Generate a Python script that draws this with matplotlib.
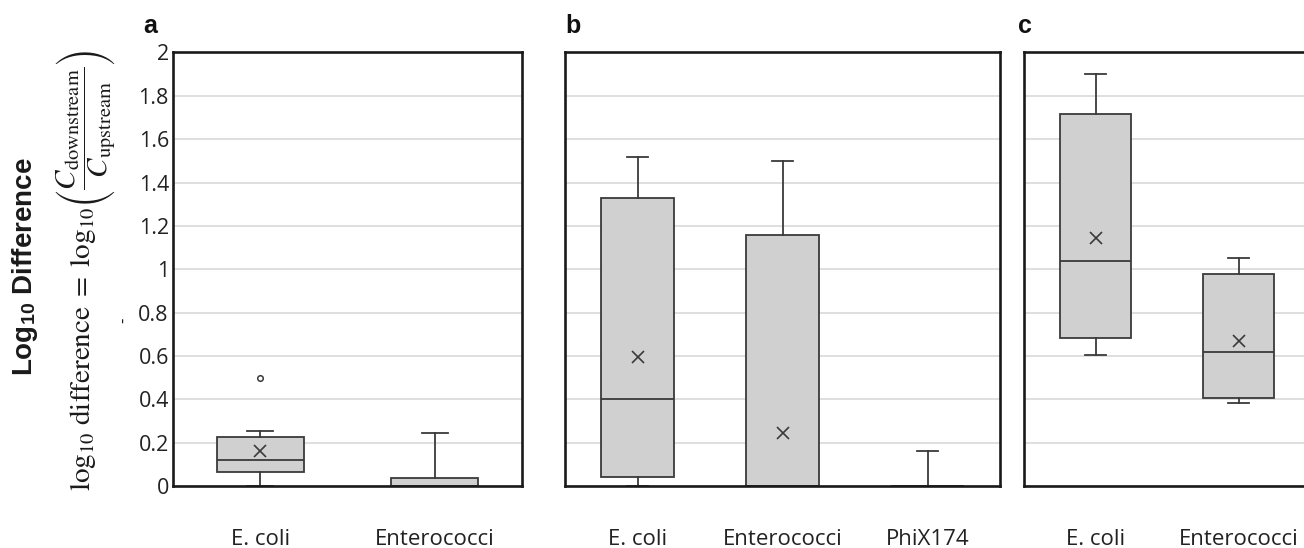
import matplotlib
matplotlib.use("Agg")
import matplotlib.pyplot as plt

# ---------------- data ----------------
a_cats = ["E. coli", "Enterococci"]
a_q1 = [0.065, 0.0]
a_med = [0.12, 0.0]
a_q3 = [0.226, 0.038]
a_lo = [0.0, 0.0]
a_hi = [0.252, 0.243]
a_mean = [0.161, None]
a_fliers = [[0.50], []]

b_cats = ["E. coli", "Enterococci", "PhiX174"]
b_q1 = [0.040, 0.0, 0.0]
b_med = [0.40, 0.0, 0.0]
b_q3 = [1.330, 1.158, 0.0]
b_lo = [0.0, 0.0, 0.0]
b_hi = [1.519, 1.501, 0.161]
b_mean = [0.594, 0.243, None]
b_fliers = [[], [], []]

c_cats = ["E. coli", "Enterococci"]
c_q1 = [0.685, 0.407]
c_med = [1.037, 0.619]
c_q3 = [1.714, 0.977]
c_lo = [0.604, 0.382]
c_hi = [1.903, 1.052]
c_mean = [1.143, 0.670]
c_fliers = [[], []]

y_ticks = [0, 0.2, 0.4, 0.6, 0.8, 1, 1.2, 1.4, 1.6, 1.8, 2]
y_ticklabels = ["0", "0.2", "0.4", "0.6", "0.8", "1", "1.2", "1.4", "1.6", "1.8", "2"]
panel_letters = ["a", "b", "c"]

# ---------------- style ----------------
W, H = 1304, 548
plt.rcParams["mathtext.fontset"] = "stix"
fig = plt.figure(figsize=(W / 100, H / 100), dpi=100)

TXT = "#222222"
BOXFILL = "#d0d0d0"
EDGE = "#3a3a3a"
GRID = "#d9d9d9"
TICKFONT = "Open Sans"


def px_axes(left, right, top, bottom):
    return fig.add_axes([left / W, 1 - bottom / H, (right - left) / W, (bottom - top) / H])


def panel(ax, cats, q1, med, q3, lo, hi, mean, fliers, show_y):
    stats = []
    for i in range(len(cats)):
        stats.append(dict(label=cats[i], q1=q1[i], med=med[i], q3=q3[i],
                          whislo=lo[i], whishi=hi[i], fliers=fliers[i]))
    pos = list(range(len(cats)))
    ax.bxp(stats, positions=pos, widths=0.5, capwidths=0.15, patch_artist=True,
           showfliers=True, manage_ticks=False,
           boxprops=dict(facecolor=BOXFILL, edgecolor=EDGE, linewidth=1.3),
           medianprops=dict(color=EDGE, linewidth=1.3),
           whiskerprops=dict(color=EDGE, linewidth=1.3),
           capprops=dict(color=EDGE, linewidth=1.3),
           flierprops=dict(marker="o", markersize=4, markerfacecolor="none",
                           markeredgecolor=EDGE, markeredgewidth=1.1))
    mx = [p for p, m in zip(pos, mean) if m is not None]
    my = [m for m in mean if m is not None]
    ax.plot(mx, my, linestyle="none", marker="x", markersize=8,
            markeredgewidth=1.2, color=EDGE, zorder=3)
    ax.set_ylim(0, 2)
    ax.set_xlim(-0.5, len(cats) - 0.5)
    ax.set_yticks(y_ticks)
    ax.yaxis.grid(True, which="major", color=GRID, linewidth=1.2)
    ax.set_axisbelow(True)
    ax.set_xticks(pos)
    ax.set_xticklabels(cats, fontsize=16, family=TICKFONT, color=TXT)
    ax.tick_params(axis="x", length=0, pad=31)
    ax.tick_params(axis="y", which="both", length=0)
    if show_y:
        ax.set_yticklabels(y_ticklabels, fontsize=15.5, family=TICKFONT, color=TXT)
        ax.tick_params(axis="y", pad=3)
    else:
        ax.set_yticklabels([])
    for s in ax.spines.values():
        s.set_linewidth(1.9)
        s.set_color("#1a1a1a")
        s.set_zorder(5)


ax_a = px_axes(173, 522, 52.5, 486)
ax_b = px_axes(565, 1000, 52.5, 486)
ax_c = px_axes(1024, 1310, 52.5, 486)

panel(ax_a, a_cats, a_q1, a_med, a_q3, a_lo, a_hi, a_mean, a_fliers, True)
panel(ax_b, b_cats, b_q1, b_med, b_q3, b_lo, b_hi, b_mean, b_fliers, False)
panel(ax_c, c_cats, c_q1, c_med, c_q3, c_lo, c_hi, c_mean, c_fliers, False)

# panel letters
for letter, xpx in zip(panel_letters, [143, 565, 1018]):
    fig.text(xpx / W, 1 - 33 / H, letter, fontsize=18, fontweight="bold",
             family="Liberation Sans", color="#111111", ha="left", va="baseline")

# y labels
fig.text(25 / W, 1 - 267 / H, r"Log$_{\mathregular{10}}$ Difference", rotation=90,
         fontsize=20, fontweight="bold", family="Liberation Sans", color="#1a1a1a",
         ha="center", va="center")
fig.text(86 / W, 1 - 270 / H,
         r"$\log_{10}\,\mathrm{difference}\;=\;\log_{10}\!\left(\dfrac{C_{\mathrm{downstream}}}{C_{\mathrm{upstream}}}\right)$",
         rotation=90, fontsize=21, color="#1a1a1a", ha="center", va="center")
fig.text(123 / W, 1 - 320 / H, "-", rotation=90, fontsize=11, color="#1a1a1a",
         ha="center", va="center")

fig.savefig("out.png", dpi=100)
